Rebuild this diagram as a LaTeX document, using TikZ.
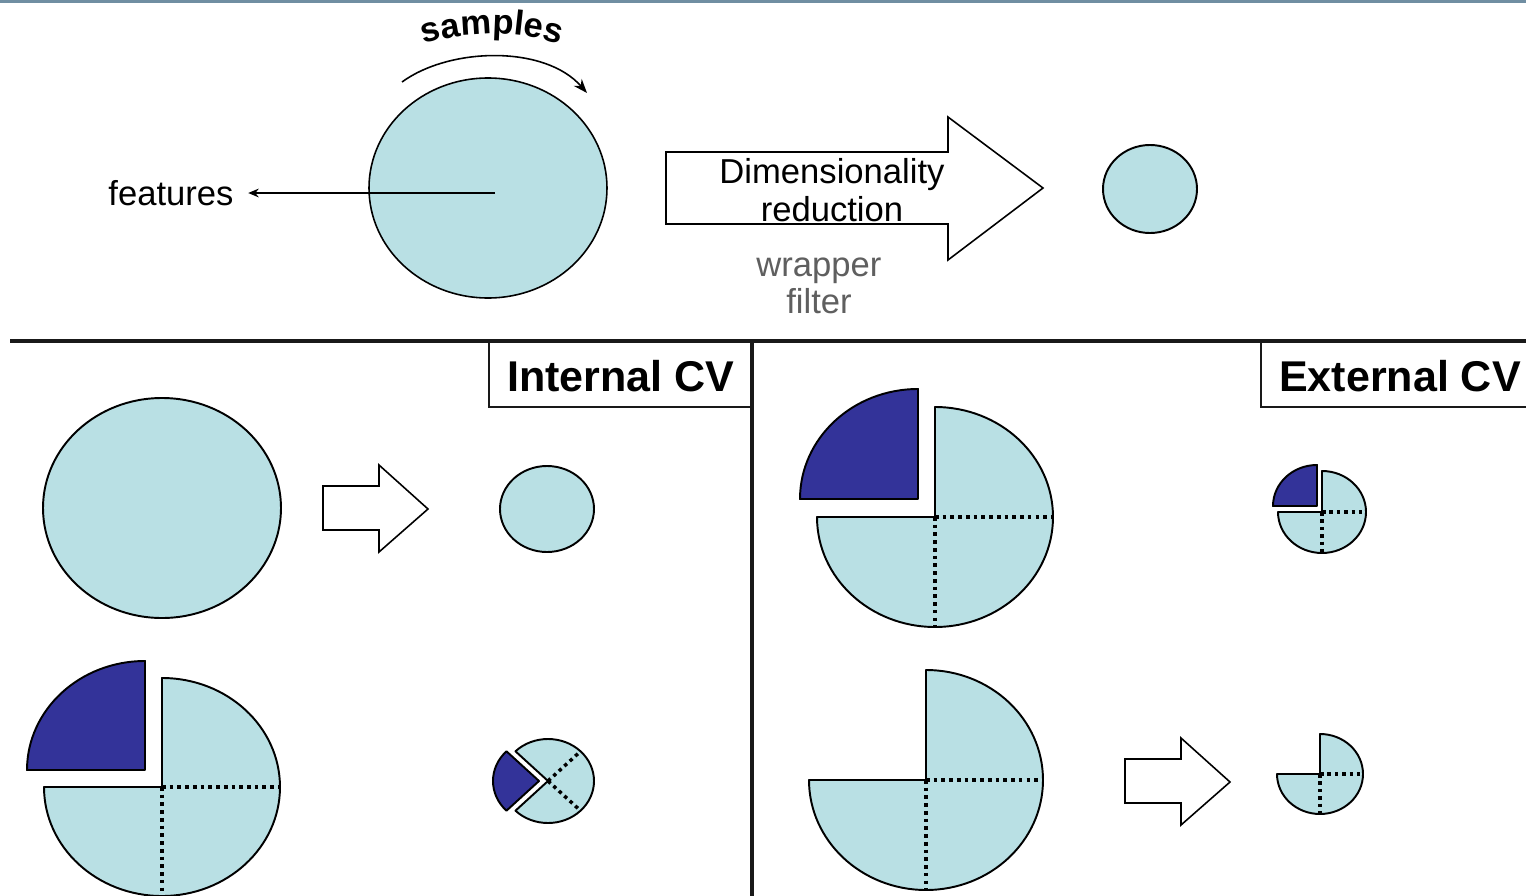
\documentclass[tikz,border=0pt]{standalone}
\usepackage{fontspec}
\setmainfont{Liberation Sans}
\usetikzlibrary{arrows.meta,positioning,decorations.text}
\definecolor{cvlight}{RGB}{185,224,228}
\definecolor{cvdark}{RGB}{51,51,153}
\definecolor{topbar}{RGB}{112,142,162}
\definecolor{greytext}{RGB}{95,95,95}

\begin{document}
\begin{tikzpicture}[x=0.02cm,y=0.02cm,>={Stealth[length=8pt,width=6pt]},
pie/.style={draw=black, fill=cvlight, line width=1.1pt, line join=round},
piecut/.style={draw=black, fill=cvdark, line width=1.1pt, line join=round},
fold/.style={line width=2.1pt, dash pattern=on 2.1pt off 2.3pt},
smallfold/.style={line width=2pt, dash pattern=on 2pt off 2.2pt},
blockarrow/.style={draw=black, fill=white, line width=0.9pt, line join=miter},
panel/.style={line width=1.8pt, draw=black!90},
tab/.style={line width=1.1pt, draw=black!90},
labeltext/.style={font=\fontsize{19.7}{22}\selectfont, align=center},
titletext/.style={font=\bfseries\fontsize{24.5}{28}\selectfont},
]
\useasboundingbox (0,0) rectangle (1526,-896);
\fill[white] (0,0) rectangle (1526,-896);
\draw[topbar, line width=1.7pt] (0,-1.5) -- (1526,-1.5);

% top row
\draw[pie, line width=0.9pt] (488,-188) ellipse [x radius=119, y radius=110];
\coordinate (featstart) at (495,-193);
\node[labeltext] (features) at (171,-193) {features};
\draw[->, line width=0.7pt, >={Stealth[length=6pt,width=5pt]}, shorten >=0.17cm] (featstart) -- (features.east);

\coordinate (sampfrom) at (402,-82);
\coordinate (sampto) at (587,-93);
\draw[->, line width=0.9pt] (sampfrom) .. controls (450,-47) and (545,-45) .. (sampto);
\path[decorate, decoration={text along path, text align=center,
  text={|\bfseries\fontsize{19.7}{22}\selectfont|samples}}]
  (492,-270) ++(112:236) arc[start angle=112, end angle=68, radius=236];

\draw[blockarrow] (666,-152) -- (948,-152) -- (948,-117) -- (1043,-188)
  -- (948,-260) -- (948,-224) -- (666,-224) -- cycle;
\node[labeltext] (dimtext) at (832,-190) {Dimensionality\\reduction};
\node[labeltext, text=greytext] (wraptext) at (819,-286) {wrapper\\[-1pt]filter};
\draw[pie] (1150,-189) ellipse [x radius=47, y radius=44];

% panels
\draw[panel] (10,-341) -- (1526,-341);
\draw[panel] (752,-341) -- (752,-896);
\draw[tab] (489,-341) -- (489,-407) -- (752,-407);
\draw[tab] (1261,-341) -- (1261,-407) -- (1526,-407);
\node[titletext] (intcv) at (621,-376) {Internal CV};
\node[titletext] (extcv) at (1400,-376) {External CV};

% internal CV
\draw[pie] (162,-508) ellipse [x radius=119, y radius=110];
\draw[blockarrow, shift={(323,-509)}] (0,23) -- (56,23) -- (56,44) -- (105,0)
  -- (56,-43) -- (56,-21) -- (0,-21) -- cycle;
\draw[pie] (547,-509) ellipse [x radius=47, y radius=43];

\draw[pie] (162,-787) -- ++(0,109) arc[start angle=90, end angle=-180, x radius=118, y radius=109] -- cycle;
\draw[fold] (162,-787) -- ++(118,0) (162,-787) -- ++(0,-109);
\draw[piecut] (145,-770) -- ++(-118,0) arc[start angle=180, end angle=90, x radius=118, y radius=109] -- cycle;

\draw[pie] (548,-781) -- +(135:46 and 42) arc[start angle=135, end angle=-135, x radius=46, y radius=42] -- cycle;
\draw[smallfold] (548,-781) -- +(45:46 and 42) (548,-781) -- +(-45:46 and 42);
\draw[piecut] (539,-781) -- +(135:46 and 42) arc[start angle=135, end angle=225, x radius=46, y radius=42] -- cycle;

% external CV
\draw[pie] (935,-517) -- ++(0,110) arc[start angle=90, end angle=-180, x radius=118, y radius=110] -- cycle;
\draw[fold] (935,-517) -- ++(118,0) (935,-517) -- ++(0,-110);
\draw[piecut] (918,-499) -- ++(-118,0) arc[start angle=180, end angle=90, x radius=118, y radius=110] -- cycle;

\draw[pie] (1322,-512) -- ++(0,41) arc[start angle=90, end angle=-180, x radius=44, y radius=41] -- cycle;
\draw[smallfold] (1322,-512) -- ++(44,0) (1322,-512) -- ++(0,-41);
\draw[piecut] (1317,-506) -- ++(-44,0) arc[start angle=180, end angle=90, x radius=44, y radius=41] -- cycle;

\draw[pie] (926,-780) -- ++(0,110) arc[start angle=90, end angle=-180, x radius=117, y radius=110] -- cycle;
\draw[fold] (926,-780) -- ++(117,0) (926,-780) -- ++(0,-110);
\draw[blockarrow, shift={(1125,-782)}] (0,23) -- (56,23) -- (56,44) -- (105,0)
  -- (56,-43) -- (56,-21) -- (0,-21) -- cycle;
\draw[pie] (1320,-774) -- ++(0,40) arc[start angle=90, end angle=-180, x radius=43, y radius=40] -- cycle;
\draw[smallfold] (1320,-774) -- ++(43,0) (1320,-774) -- ++(0,-40);
\end{tikzpicture}
\end{document}
